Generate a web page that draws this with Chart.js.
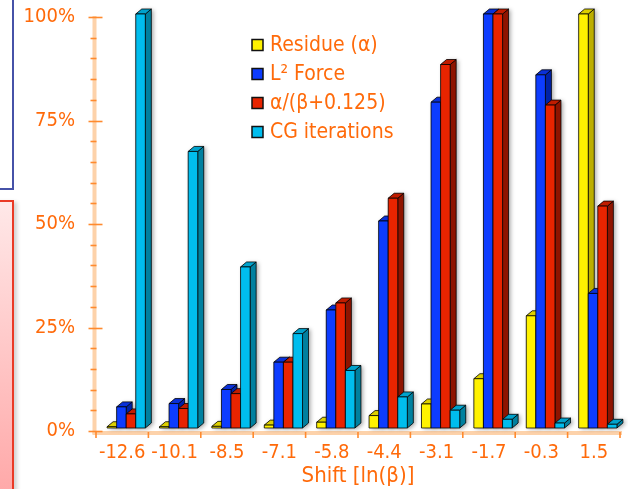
<!DOCTYPE html>
<html>
<head>
<meta charset="utf-8">
<script src="https://cdn.jsdelivr.net/npm/chart.js@4/dist/chart.umd.min.js"></script>
<style>
  html, body { margin: 0; padding: 0; background: #fff; overflow: hidden; }
  #wrap { position: relative; width: 628px; height: 489px; }
  .panel-blue { position: absolute; left: -10px; top: -10px; width: 20px; height: 196px;
    border: 2px solid #4652a8; background: #fff; }
  .panel-red { position: absolute; left: -10px; top: 200px; width: 20px; height: 320px;
    border: 2px solid #ea3a26; background: linear-gradient(#ffe8e8, #ffa2a2);
    box-shadow: 3px 2px 4px rgba(0,0,0,0.18); }
  canvas { position: absolute; left: 0; top: 0; }
</style>
</head>
<body>
<div id="wrap">
  <div class="panel-blue"></div>
  <div class="panel-red"></div>
  <canvas id="c" width="628" height="489"></canvas>
</div>
<script>
// Shift values on the x axis
const categories = ['-12.6', '-10.1', '-8.5', '-7.1', '-5.8', '-4.4', '-3.1', '-1.7', '-0.3', '1.5'];
// Normalised quantities (percent of maximum)
const residue      = [0.3, 0.3, 0.4, 0.7, 1.4, 3.0, 5.8, 11.9, 27.1, 100];
const l2Force      = [5.1, 5.9, 9.3, 15.9, 28.5, 50.0, 78.7, 100, 85.3, 32.5];
const alphaRatio   = [3.4, 4.7, 8.3, 15.9, 30.2, 55.5, 87.8, 100, 78.0, 53.6];
const cgIterations = [100, 66.8, 38.9, 22.8, 13.9, 7.5, 4.3, 2.1, 1.2, 0.9];
const seriesNames  = ['Residue (\u03B1)', 'L\u00B2 Force', '\u03B1/(\u03B2+0.125)', 'CG iterations'];
const yTickValues  = [0, 25, 50, 75, 100];
const xTitle = 'Shift [ln(\u03B2)]';

const ORANGE = '#ff6a0a';
const FONT = '"DejaVu Sans Condensed", "DejaVu Sans", sans-serif';

// front / side / top shades for each series
const shades = [
  { front: '#fff200', side: '#bcae00', top: '#ddd000' },
  { front: '#0d3cff', side: '#0022a8', top: '#0a30d8' },
  { front: '#e82400', side: '#8e1400', top: '#c01c00' },
  { front: '#00bdee', side: '#00809f', top: '#00a2cc' }
];

const DEPTH_X = 6, DEPTH_Y = 5, SHIFT_X = 4, SHIFT_Y = -3;

function poly(ctx, pts) {
  ctx.beginPath();
  ctx.moveTo(pts[0][0], pts[0][1]);
  for (let i = 1; i < pts.length; i++) ctx.lineTo(pts[i][0], pts[i][1]);
  ctx.closePath();
}

// Axis lines and tick marks drawn from the chart's own scales
const axesPlugin = {
  id: 'axes3d',
  beforeDatasetsDraw(chart) {
    const ctx = chart.ctx, ca = chart.chartArea;
    const ys = chart.scales.y, xs = chart.scales.x;
    const ax = ca.left - 1.5;
    const axisY = ys.getPixelForValue(0) + 2;
    ctx.save();
    // y axis band
    ctx.strokeStyle = '#fdd2aa';
    ctx.lineWidth = 4;
    ctx.beginPath(); ctx.moveTo(ax, ys.getPixelForValue(100) - 1); ctx.lineTo(ax, axisY + 1); ctx.stroke();
    // x axis band
    ctx.beginPath(); ctx.moveTo(ax - 2, axisY); ctx.lineTo(ca.right + 2, axisY); ctx.stroke();
    ctx.strokeStyle = '#ff8a2e';
    ctx.lineWidth = 1.6;
    for (let v = 0; v <= 100; v += 5) {
      const y = Math.round(ys.getPixelForValue(v)) + 0.5;
      const major = v % 25 === 0;
      ctx.beginPath();
      ctx.moveTo(ax - (major ? 6 : 4), y);
      ctx.lineTo(ax + (major ? 8 : 2), y);
      ctx.stroke();
    }
    const n = categories.length;
    const w = (ca.right - ca.left) / n;
    for (let i = 0; i <= n; i++) {
      const x = xs.getPixelForValue(0) - w / 2 + i * w;
      ctx.beginPath(); ctx.moveTo(x, axisY - 1); ctx.lineTo(x, axisY + 5); ctx.stroke();
    }
    ctx.restore();
  }
};

// Extruded bars built from each bar element's position
const barsPlugin = {
  id: 'bars3d',
  afterDatasetsDraw(chart) {
    const ctx = chart.ctx;
    const metas = chart.data.datasets.map((_, d) => chart.getDatasetMeta(d));
    const boxes = [];
    for (let i = 0; i < categories.length; i++) {
      metas.forEach((meta, d) => {
        const el = meta.data[i];
        const w = el.width;
        const x0 = el.x - w / 2 + SHIFT_X, x1 = x0 + w;
        const yb = el.base + SHIFT_Y;
        const yt = Math.min(el.y + SHIFT_Y, yb - 1);
        boxes.push({ d, x0, x1, yt, yb });
      });
    }
    ctx.save();
    // soft drop shadow
    ctx.shadowColor = 'rgba(0,0,0,0.35)';
    ctx.shadowBlur = 4;
    ctx.shadowOffsetX = 2;
    ctx.shadowOffsetY = 1;
    ctx.fillStyle = '#999';
    boxes.forEach(b => {
      poly(ctx, [[b.x0, b.yb], [b.x0, b.yt], [b.x0 + DEPTH_X, b.yt - DEPTH_Y],
        [b.x1 + DEPTH_X, b.yt - DEPTH_Y], [b.x1 + DEPTH_X, b.yb - DEPTH_Y], [b.x1, b.yb]]);
      ctx.fill();
    });
    ctx.restore();
    ctx.save();
    ctx.strokeStyle = 'rgba(0,0,0,0.85)';
    ctx.lineWidth = 0.9;
    ctx.lineJoin = 'round';
    boxes.forEach(b => {
      const s = shades[b.d];
      poly(ctx, [[b.x1, b.yt], [b.x1 + DEPTH_X, b.yt - DEPTH_Y], [b.x1 + DEPTH_X, b.yb - DEPTH_Y], [b.x1, b.yb]]);
      ctx.fillStyle = s.side; ctx.fill(); ctx.stroke();
      poly(ctx, [[b.x0, b.yt], [b.x0 + DEPTH_X, b.yt - DEPTH_Y], [b.x1 + DEPTH_X, b.yt - DEPTH_Y], [b.x1, b.yt]]);
      ctx.fillStyle = s.top; ctx.fill(); ctx.stroke();
      poly(ctx, [[b.x0, b.yt], [b.x1, b.yt], [b.x1, b.yb], [b.x0, b.yb]]);
      ctx.fillStyle = s.front; ctx.fill(); ctx.stroke();
    });
    ctx.restore();
  }
};

// Legend block inside the plot
const legendPlugin = {
  id: 'legendBlock',
  afterDraw(chart) {
    const ctx = chart.ctx;
    const left = 252, top = 45, step = 29, box = 11;
    ctx.save();
    ctx.font = '21px ' + FONT;
    ctx.textBaseline = 'middle';
    ctx.textAlign = 'left';
    seriesNames.forEach((name, i) => {
      const cy = top + i * step;
      ctx.fillStyle = shades[i].front;
      ctx.fillRect(left, cy - box / 2, box, box);
      ctx.strokeStyle = '#111';
      ctx.lineWidth = 1.5;
      ctx.strokeRect(left, cy - box / 2, box, box);
      ctx.fillStyle = ORANGE;
      ctx.fillText(name, left + 18, cy + 1);
    });
    ctx.restore();
  }
};

const seriesData = [residue, l2Force, alphaRatio, cgIterations];

new Chart(document.getElementById('c'), {
  type: 'bar',
  data: {
    labels: categories,
    datasets: seriesData.map((vals, d) => ({
      label: seriesNames[d],
      data: vals,
      backgroundColor: 'rgba(0,0,0,0)',
      borderWidth: 0,
      categoryPercentage: 0.73,
      barPercentage: 1.0
    }))
  },
  options: {
    responsive: false,
    animation: false,
    events: [],
    layout: { padding: { top: 17, right: 8, left: 0, bottom: 0 } },
    plugins: { legend: { display: false }, tooltip: { enabled: false } },
    scales: {
      y: {
        min: 0, max: 100,
        afterFit(scale) { scale.width = 96; scale.paddingTop = 0; scale.paddingBottom = 0; },
        afterBuildTicks(scale) { scale.ticks = yTickValues.map(v => ({ value: v })); },
        grid: { display: false, drawTicks: false },
        border: { display: false },
        ticks: {
          padding: 21,
          color: ORANGE,
          font: { family: FONT, size: 20 },
          callback: v => v + '%'
        }
      },
      x: {
        afterFit(scale) { scale.height = 58; scale.paddingLeft = 0; scale.paddingRight = 0; },
        grid: { display: false, drawTicks: false },
        border: { display: false },
        ticks: {
          padding: 10,
          color: ORANGE,
          maxRotation: 0,
          autoSkip: false,
          font: { family: FONT, size: 20 }
        },
        title: {
          display: true,
          text: xTitle,
          color: ORANGE,
          padding: { top: 0, bottom: 0 },
          font: { family: FONT, size: 22 }
        }
      }
    }
  },
  plugins: [axesPlugin, barsPlugin, legendPlugin]
});
</script>
</body>
</html>
